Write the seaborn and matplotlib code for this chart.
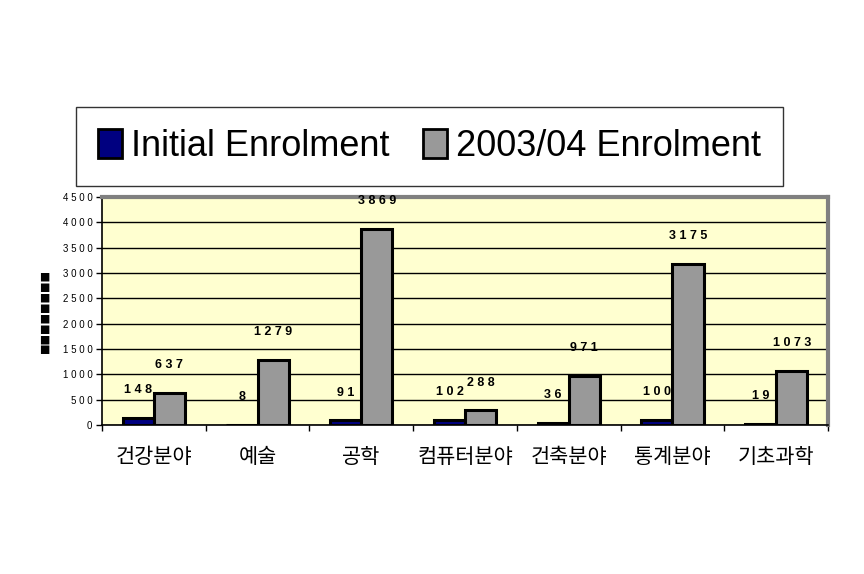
import matplotlib
matplotlib.use("Agg")
import matplotlib.pyplot as plt
from matplotlib.patches import Patch
from matplotlib.ticker import FuncFormatter, FixedLocator
import seaborn as sns
import pandas as pd
import numpy as np

categories = ["건강분야", "예술", "공학", "컴퓨터분야", "건축분야", "통계분야", "기초과학"]
initial = [148, 8, 91, 102, 36, 100, 19]
enrol_0304 = [637, 1279, 3869, 288, 971, 3175, 1073]
series_names = ["Initial Enrolment", "2003/04 Enrolment"]
y_ticks = [0, 500, 1000, 1500, 2000, 2500, 3000, 3500, 4000, 4500]

df = pd.DataFrame({
    "category": categories * 2,
    "series": [series_names[0]] * len(categories) + [series_names[1]] * len(categories),
    "value": initial + enrol_0304,
})

sns.set_theme(style="white")
plt.rcParams["font.family"] = ["Liberation Sans", "Noto Sans CJK KR", "DejaVu Sans"]
plt.rcParams.update({"text.color": "black", "xtick.color": "black", "ytick.color": "black",
                     "axes.labelcolor": "black"})

colors = {series_names[0]: "#000080", series_names[1]: "#999999"}

fig = plt.figure(figsize=(8.64, 5.74), dpi=100)
ax = fig.add_axes([102 / 864, 1 - 425 / 574, (828 - 102) / 864, (425 - 197) / 574])
ax.set_facecolor("#FFFFD0")

sns.barplot(data=df, x="category", y="value", hue="series", hue_order=series_names,
            order=categories, palette=colors, width=0.6, edgecolor="black",
            linewidth=2.2, saturation=1, ax=ax, legend=False, zorder=3)

ax.set_ylim(0, 4500)
ax.set_xlim(-0.5, len(categories) - 0.5)
ax.yaxis.set_major_locator(FixedLocator(y_ticks))
ax.yaxis.set_major_formatter(FuncFormatter(lambda v, p: " ".join(str(int(v)))))
ax.grid(axis="y", color="black", linewidth=1, zorder=1)
ax.set_axisbelow(True)

for lbl in ax.get_yticklabels():
    lbl.set_fontsize(7)
    lbl.set_family(["Liberation Sans"])
ax.tick_params(axis="y", which="major", left=True, length=4, width=1, color="black",
               labelcolor="black", pad=3)

# category boundaries as x ticks
ax.set_xticks(np.arange(len(categories)))
ax.set_xticklabels(categories, fontsize=15, family=["Noto Sans CJK KR", "DejaVu Sans"])
ax.tick_params(axis="x", which="major", bottom=False, pad=9, labelcolor="black")
ax.set_xticks(np.arange(len(categories) + 1) - 0.5, minor=True)
ax.tick_params(axis="x", which="minor", bottom=True, length=4, width=1, color="black")
ax.set_xlabel("")
ax.set_ylabel("■■■■■■■■", fontsize=8, family=["DejaVu Sans"], labelpad=9, color="black")

for side in ["left", "bottom"]:
    ax.spines[side].set_color("black")
    ax.spines[side].set_linewidth(1.2)
for side in ["top", "right"]:
    ax.spines[side].set_color("#808080")
    ax.spines[side].set_linewidth(3)

# value labels
for container, vals in zip(ax.containers, [initial, enrol_0304]):
    for bar, v in zip(container, vals):
        ax.annotate(" ".join(str(v)), (bar.get_x() + bar.get_width() / 2, bar.get_height()),
                    xytext=(0, 20), textcoords="offset points", ha="center", va="center",
                    fontsize=9, fontweight="bold", family=["Liberation Sans"], color="black",
                    zorder=5)

handles = [Patch(facecolor=colors[s], edgecolor="black", linewidth=2) for s in series_names]
leg = fig.legend(handles, series_names, loc="center",
                 bbox_to_anchor=(76 / 864, 1 - 188 / 574, (783 - 76) / 864, (188 - 105) / 574),
                 ncol=2, frameon=True, fancybox=False, edgecolor="black",
                 prop={"family": ["Liberation Sans"], "size": 26},
                 handlelength=0.67, handleheight=0.85, handletextpad=0.25, columnspacing=0.7,
                 borderpad=0.6, mode="expand", borderaxespad=0, labelcolor="black")
leg.get_frame().set_linewidth(1)

fig.savefig("out.png", dpi=100, facecolor="white")
